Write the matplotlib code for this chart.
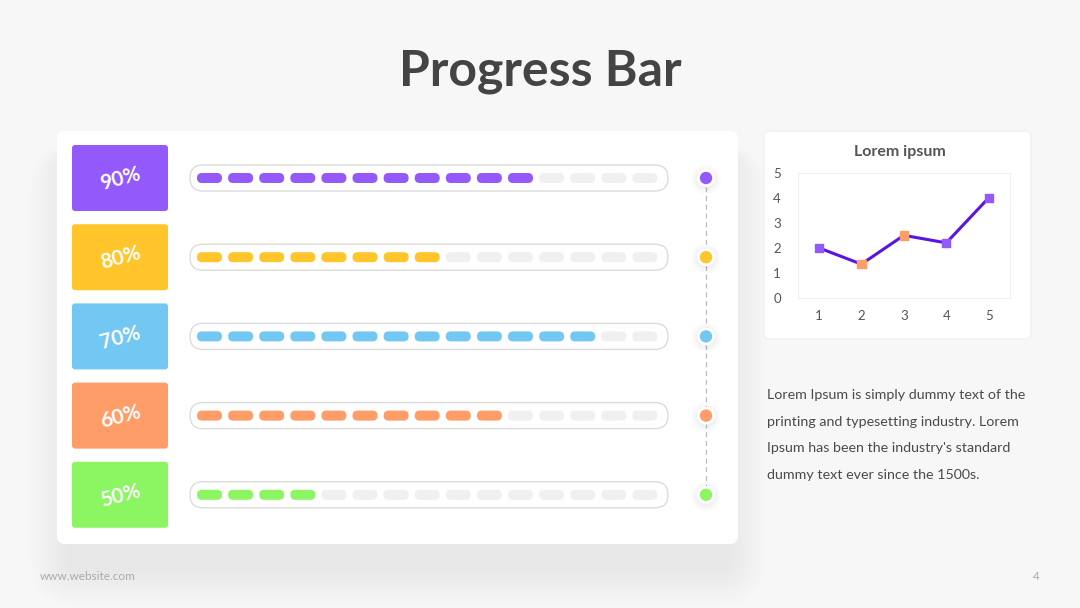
import matplotlib.pyplot as plt
from matplotlib.patches import FancyBboxPatch, Circle
import numpy as np

plt.rcParams['font.family'] = ['Lato', 'DejaVu Sans']

### Data
labels = ['90%', '80%', '70%', '60%', '50%']
filled = [11, 8, 13, 10, 4]          # filled segments out of 15
n_seg = 15
colors = ['#9459fb', '#ffc52a', '#73c8f3', '#ff9d69', '#8cf562']

line_x = [1, 2, 3, 4, 5]
line_y = [2.0, 1.35, 2.5, 2.2, 4.0]
marker_cols = ['#9459fb', '#ff9d69', '#ff9d69', '#9459fb', '#9459fb']

title = 'Progress Bar'
chart_title = 'Lorem ipsum'
para = ["Lorem Ipsum is simply dummy text of the",
        "printing and typesetting industry. Lorem",
        "Ipsum has been the industry's standard",
        "dummy text ever since the 1500s."]

###############################################################################
fig = plt.figure(figsize=(10.8, 6.08), dpi=100)
fig.patch.set_facecolor('#f7f7f7')
ax = fig.add_axes([0, 0, 1, 1])
ax.set_xlim(0, 1080)
ax.set_ylim(608, 0)
ax.axis('off')

def rbox(x, y, w, h, r, fc, ec='none', lw=0, z=1, alpha=1):
    p = FancyBboxPatch((x, y), w, h, boxstyle='round,pad=0,rounding_size=%s' % r,
                       fc=fc, ec=ec, lw=lw, zorder=z, alpha=alpha)
    ax.add_patch(p)
    return p

### Title
ax.text(540, 72, title, ha='center', va='center', fontsize=36,
        color='#444444', fontweight='bold')

### Shadows + cards
for i in range(16):
    g = i * 2.5
    rbox(57 - g + 10, 131 + 25 - g * 0.3, 681 + 2 * g - 20, 413 + g * 1.3, 10 + g,
         '#000000', z=0.5, alpha=0.0045)
rbox(57, 131, 681, 413, 8, 'white', z=1)
rbox(764, 131, 267, 208, 6, 'white', ec='#eeeeee', lw=0.8, z=1)

### Rows
row_y = 178 + 79.2 * np.arange(len(labels))
seg_x = 209.5 + 31.1 * np.arange(n_seg)
for i in range(len(labels)):
    y = row_y[i]
    rbox(72, y - 33, 96, 66, 3, colors[i], z=2)
    ax.text(120, y + 1, labels[i], ha='center', va='center', fontsize=15,
            color='white', rotation=15, fontweight='bold', zorder=3)
    rbox(190, y - 13, 478, 26, 13, 'white', ec='#dcdcdc', lw=1.0, z=2)
    for j in range(n_seg):
        c = colors[i] if j < filled[i] else '#f0f0f0'
        rbox(seg_x[j] - 12.5, y - 5, 25, 10, 5, c, z=3)

### Connector + dots
ax.plot([706, 706], [row_y[0], row_y[-1]], ls=(0, (4, 3)), color='#bbbbbb',
        lw=0.9, zorder=2)
for i in range(len(labels)):
    y = row_y[i]
    for k in range(5):
        ax.add_patch(Circle((706, y + 1.5), 9 + k * 1.5, fc='black', alpha=0.01, zorder=2.5))
    ax.add_patch(Circle((706, y), 9, fc='white', zorder=3))
    ax.add_patch(Circle((706, y), 6.2, fc=colors[i], zorder=4))

### Line chart
ax.text(900, 152, chart_title, ha='center', va='center', fontsize=11.5,
        color='#555555', fontweight='bold')
lax = fig.add_axes([797.7 / 1080, 1 - 298 / 608, 212.3 / 1080, 125.3 / 608])
lax.set_facecolor('white')
lax.plot(line_x, line_y, color='#5a14e3', lw=2.2, zorder=2)
lax.scatter(line_x, line_y, marker='s', s=36, c=marker_cols, zorder=3)
lax.set_xlim(0.5, 5.5)
lax.set_ylim(0, 5)
lax.set_xticks(line_x)
lax.set_yticks(np.arange(0, 6))
for s in lax.spines.values():
    s.set_color('#f0f0f0')
lax.tick_params(length=0, labelsize=9.5, colors='#555555')
lax.tick_params(axis='y', pad=12)
lax.tick_params(axis='x', pad=9)

### Paragraph
for k, line in enumerate(para):
    ax.text(767, 395 + 26.7 * k, line, ha='left', va='center', fontsize=10.3,
            color='#4a4a4a')

### Footer
ax.text(40, 577, 'www.website.com', ha='left', va='center', fontsize=8.5, color='#aaaaaa')
ax.text(1036, 577, '4', ha='center', va='center', fontsize=8.5, color='#aaaaaa')

plt.savefig('out.png', dpi=100, facecolor=fig.get_facecolor())
